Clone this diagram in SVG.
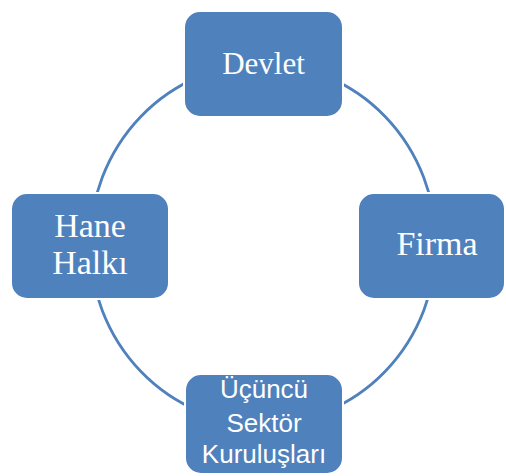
<svg xmlns="http://www.w3.org/2000/svg" width="506" height="476" viewBox="0 0 506 476">
<style>
.box{fill:#4F81BD;stroke:#ffffff;stroke-width:2}
.serif{font-family:"Liberation Serif","Times New Roman",serif;fill:#ffffff;text-anchor:middle}
.sans{font-family:"Liberation Sans",Arial,sans-serif;fill:#ffffff;text-anchor:middle;font-size:26px}
.ring{fill:none;stroke:#4F81BD;stroke-width:2.8}
</style>
<rect width="506" height="476" fill="#ffffff"/>
<g id="connectors">
<ellipse class="ring" cx="263" cy="244" rx="173" ry="180"/>
</g>
<g id="devlet">
<rect class="box" x="184" y="11" width="159" height="106" rx="16"/>
<text class="serif" x="263.5" y="74" font-size="31">Devlet</text>
</g>
<g id="hane-halki">
<rect class="box" x="11" y="193" width="158" height="106" rx="16"/>
<text class="serif" x="90" y="237" font-size="34">Hane</text>
<text class="serif" x="90" y="274" font-size="34">Halkı</text>
</g>
<g id="firma">
<rect class="box" x="358" y="193" width="147" height="106" rx="16"/>
<text class="serif" x="437" y="255" font-size="34">Firma</text>
</g>
<g id="ucuncu-sektor">
<rect class="box" x="185" y="374" width="158" height="100" rx="16"/>
<text class="sans" x="264" y="398">Üçüncü</text>
<text class="sans" x="264" y="432">Sektör</text>
<text class="sans" x="264" y="463">Kuruluşları</text>
</g>
</svg>
